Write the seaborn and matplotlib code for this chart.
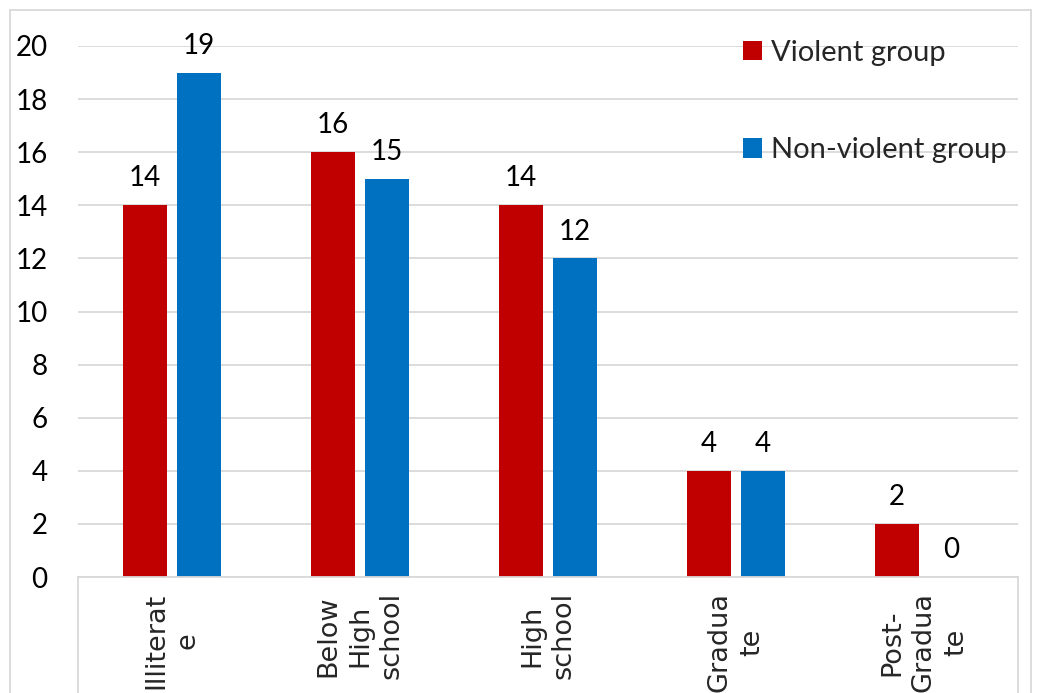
import pandas as pd
import matplotlib.pyplot as plt
import seaborn as sns
from matplotlib.patches import Rectangle

categories = ["Illiterat\ne", "Below\nHigh\nschool", "High\nschool", "Gradua\nte", "Post-\nGradua\nte"]
groups = ["Violent group", "Non-violent group"]
violent = [14, 16, 14, 4, 2]
non_violent = [19, 15, 12, 4, 0]
colors = ["#C00000", "#0070C0"]

df = pd.DataFrame({
    "education": categories * 2,
    "group": [groups[0]] * len(categories) + [groups[1]] * len(categories),
    "count": violent + non_violent,
})

sns.set_style("white")
plt.rcParams["font.family"] = ["Lato", "DejaVu Sans"]

fig = plt.figure(figsize=(10.41, 6.93), dpi=100)
ax = fig.add_axes([78 / 1041, 116 / 693, 940 / 1041, 531 / 693])

sns.barplot(
    data=df, x="education", y="count", hue="group",
    palette=colors, saturation=1, width=0.576, gap=0.19,
    linewidth=0, edgecolor="none", ax=ax,
)

for cont in ax.containers:
    ax.bar_label(cont, fmt="%d", padding=10, fontsize=20, color="#000000", clip_on=False)

ax.set_ylim(0, 20)
ax.set_xlim(-0.5, len(categories) - 0.5)
ax.set_yticks(range(0, 21, 2))
ax.yaxis.grid(True, color="#D9D9D9", linewidth=1.3)
ax.set_axisbelow(True)
ax.set_xlabel("")
ax.set_ylabel("")

for s in ["top", "right", "left"]:
    ax.spines[s].set_visible(False)
ax.spines["bottom"].set_color("#D9D9D9")
ax.spines["bottom"].set_linewidth(1.3)

# category axis edges below the plot
for xe in [0, 1]:
    ax.plot([xe, xe], [0, -0.3], transform=ax.transAxes, color="#D9D9D9",
            linewidth=1.3, clip_on=False)

ax.tick_params(axis="y", length=0, pad=22, labelsize=20, labelcolor="#000000")
ax.tick_params(axis="x", length=0, pad=11)
ax.set_xticks(range(len(categories)))
ax.set_xticklabels(categories, rotation=90, ha="center", va="top",
                   multialignment="center", family="DejaVu Sans",
                   fontsize=19.5, linespacing=1.3)

handles, labels = ax.get_legend_handles_labels()
ax.legend(handles, labels, loc="upper left", bbox_to_anchor=(0.7074, 1.012),
          frameon=False, fontsize=21, handlelength=0.65, handleheight=0.65,
          handletextpad=0.3, labelspacing=2.45, borderpad=0, borderaxespad=0)

fig.patches.append(Rectangle((10 / 1041, -0.1), 1021 / 1041, 1.1 - 10 / 693,
                             transform=fig.transFigure, fill=False,
                             edgecolor="#D9D9D9", linewidth=1.3))

fig.savefig("out.png", dpi=100)
